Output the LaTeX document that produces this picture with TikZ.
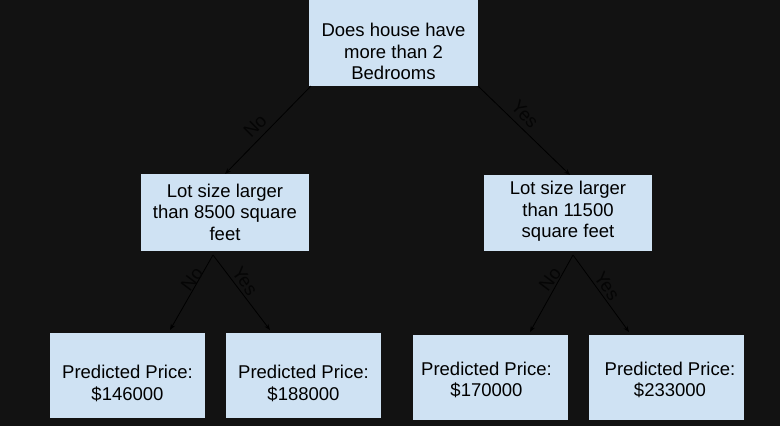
\documentclass[tikz,border=0pt]{standalone}
\usepackage{fontspec}
\setmainfont{Liberation Sans}
\usetikzlibrary{arrows.meta}
\definecolor{bg}{HTML}{121212}
\definecolor{boxfill}{HTML}{CFE2F3}
\definecolor{lbl}{HTML}{050505}
\begin{document}
\begin{tikzpicture}[x=1pt,y=-1pt,
  box/.style={fill=boxfill, draw=none, inner sep=0pt, minimum width=168pt},
  leaf/.style={fill=boxfill, draw=none, inner sep=0pt, minimum width=155pt, minimum height=85pt},
  txt/.style={font=\fontsize{18.5}{21.5}\selectfont, align=center, text=black, inner sep=0pt},
  lab/.style={font=\fontsize{18.5}{21.5}\selectfont, text=lbl, inner sep=0pt},
  conn/.style={draw=black, line width=0.8pt, -{Stealth[length=6pt,width=4.5pt]}}]
\useasboundingbox (0,0) rectangle (780,426);
\fill[bg] (0,0) rectangle (780,426);
% boxes
\node[box, minimum width=169pt, minimum height=104pt] (root) at (393.5,34) {};
\node[txt] (roottxt) at (393.5,51.5) {Does house have\\more than 2\\Bedrooms};
\node[box, minimum height=77pt] (lm) at (225,212.5) {};
\node[txt] (lmtxt) at (225,212) {Lot size larger\\than 8500 square\\feet};
\node[box, minimum height=76pt] (rm) at (568,213) {};
\node[txt] (rmtxt) at (568,211.5) {Lot size larger\\than 11500\\square feet};
\node[leaf] (l1) at (127.5,375.5) {};
\node[txt] (l1txt) at (127.5,383.5) {Predicted Price:\\\$146000};
\node[leaf] (l2) at (303.5,375.5) {};
\node[txt] (l2txt) at (303.5,383.5) {Predicted Price:\\\$188000};
\node[leaf] (l3) at (490.5,377) {};
\node[txt] (l3txt) at (486.5,380) {Predicted Price:\\\$170000};
\node[leaf] (l4) at (666.5,377) {};
\node[txt] (l4txt) at (670,380) {Predicted Price:\\\$233000};
% connector points
\coordinate (rootL) at (311,86);
\coordinate (rootR) at (478,86);
\coordinate (lmTop) at (225,174);
\coordinate (rmTop) at (570,175);
\coordinate (lmA) at (213,255);
\coordinate (rmA) at (573,255);
\coordinate (l1T) at (170,330);
\coordinate (l2T) at (270,330);
\coordinate (l3T) at (530,332);
\coordinate (l4T) at (629,332);
% connectors
\draw[conn] (rootL) -- (lmTop);
\draw[conn] (rootR) -- (rmTop);
\draw[conn] (lmA) -- (l1T);
\draw[conn] (lmA) -- (l2T);
\draw[conn] (rmA) -- (l3T);
\draw[conn] (rmA) -- (l4T);
% labels
\node[lab, rotate=45] (n1) at (255,126) {No};
\node[lab, rotate=-47] (y1) at (525,114) {Yes};
\node[lab, rotate=53] (n2) at (192,279) {No};
\node[lab, rotate=-56] (y2) at (245,281) {Yes};
\node[lab, rotate=53] (n3) at (550,279) {No};
\node[lab, rotate=-56] (y3) at (607,286) {Yes};
\end{tikzpicture}
\end{document}
